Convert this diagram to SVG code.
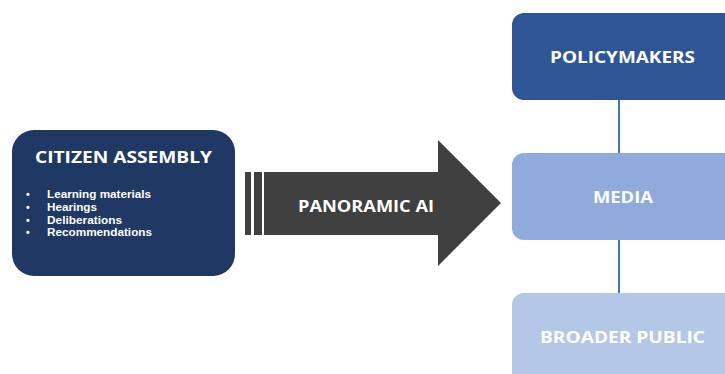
<svg xmlns="http://www.w3.org/2000/svg" width="725" height="374" viewBox="0 0 725 374">
<style>
text{font-family:"Open Sans","Liberation Sans",sans-serif;font-weight:700;fill:#ffffff}
.t{font-size:16px;text-anchor:middle}
.b{font-family:"Liberation Sans",Arial,sans-serif;font-size:10.5px}
.c{stroke:#4472c4;stroke-width:2;fill:none}
</style>
<rect width="725" height="374" fill="#ffffff"/>
<g id="citizen-assembly">
<rect x="12" y="130" width="223" height="146" rx="22" fill="#203864"/>
<text class="t" x="123.5" y="163" font-size="17" textLength="177" lengthAdjust="spacingAndGlyphs">CITIZEN ASSEMBLY</text>
<text class="b" x="26" y="198">•</text>
<text class="b" x="47" y="198" textLength="104" lengthAdjust="spacingAndGlyphs">Learning materials</text>
<text class="b" x="26" y="211">•</text>
<text class="b" x="47" y="211" textLength="50" lengthAdjust="spacingAndGlyphs">Hearings</text>
<text class="b" x="26" y="223.5">•</text>
<text class="b" x="47" y="223.5" textLength="75" lengthAdjust="spacingAndGlyphs">Deliberations</text>
<text class="b" x="26" y="236">•</text>
<text class="b" x="47" y="236" textLength="105" lengthAdjust="spacingAndGlyphs">Recommendations</text>
</g>
<g id="panoramic-ai">
<rect x="245" y="172" width="6" height="63" fill="#404040"/>
<rect x="254" y="172" width="8" height="63" fill="#404040"/>
<polygon points="264,172 438,172 438,140 501,203 438,266 438,235 264,235" fill="#404040"/>
<text class="t" x="366" y="212" font-size="17" textLength="136" lengthAdjust="spacingAndGlyphs">PANORAMIC AI</text>
</g>
<g id="connectors">
<line class="c" x1="619" y1="100" x2="619" y2="153"/>
<line class="c" x1="619" y1="240" x2="619" y2="293"/>
</g>
<g id="policymakers">
<rect x="512" y="13" width="230" height="87" rx="12" fill="#2f5597"/>
<text class="t" x="622.5" y="63" textLength="145" lengthAdjust="spacingAndGlyphs">POLICYMAKERS</text>
</g>
<g id="media">
<rect x="512" y="153" width="230" height="87" rx="12" fill="#8faadc"/>
<text class="t" x="623" y="203" textLength="60" lengthAdjust="spacingAndGlyphs">MEDIA</text>
</g>
<g id="broader-public">
<rect x="512" y="293" width="230" height="100" rx="12" fill="#b4c7e7"/>
<text class="t" x="622.5" y="343" textLength="165" lengthAdjust="spacingAndGlyphs">BROADER PUBLIC</text>
</g>
</svg>
